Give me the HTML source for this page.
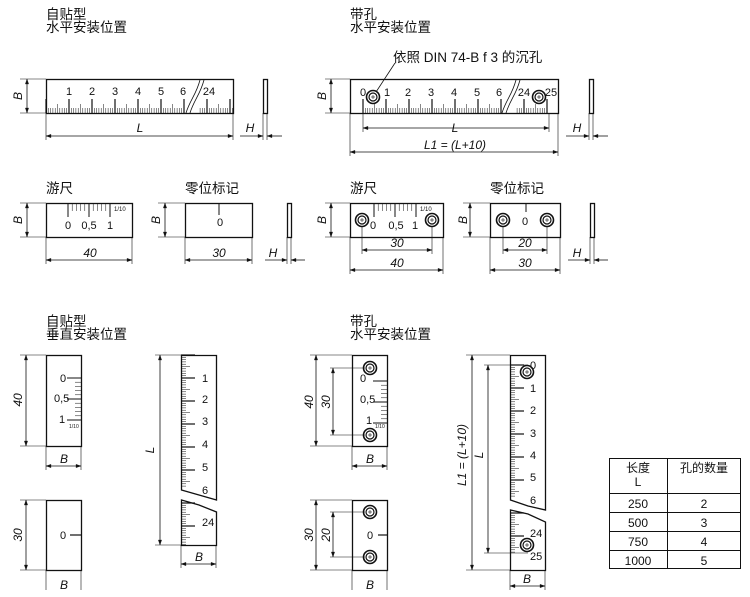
<!DOCTYPE html>
<html><head><meta charset="utf-8"><style>
html,body{margin:0;padding:0;background:#fff;width:750px;height:597px;overflow:hidden}
svg{display:block}
text{font-family:"Liberation Sans","Noto Sans CJK SC",sans-serif;fill:#111}
.cn{font-size:13.5px}
.n{font-size:11px}
.d{font-size:12px;font-style:italic}
</style></head><body>
<svg id="s" width="750" height="597" viewBox="0 0 750 597" xmlns="http://www.w3.org/2000/svg">
<g id="g" stroke="#111" fill="none" stroke-width="1"></g>
<text class="cn" x="46" y="19">自贴型</text>
<text class="cn" x="46" y="32">水平安装位置</text>
<text class="cn" x="350" y="19">带孔</text>
<text class="cn" x="350" y="32">水平安装位置</text>
<text class="cn" x="393" y="62">依照 DIN 74-B f 3 的沉孔</text>
<text class="cn" x="46" y="193">游尺</text>
<text class="cn" x="185" y="193">零位标记</text>
<text class="cn" x="350" y="193">游尺</text>
<text class="cn" x="490" y="193">零位标记</text>
<text class="cn" x="46" y="326">自贴型</text>
<text class="cn" x="46" y="339">垂直安装位置</text>
<text class="cn" x="350" y="326">带孔</text>
<text class="cn" x="350" y="339">水平安装位置</text>
<g class="n" text-anchor="middle">
<text x="69" y="95">1</text><text x="92" y="95">2</text><text x="115" y="95">3</text><text x="138" y="95">4</text><text x="161" y="95">5</text><text x="183" y="95">6</text><text x="209" y="95">24</text>
<text x="363" y="96">0</text><text x="387" y="96">1</text><text x="408" y="96">2</text><text x="431" y="96">3</text><text x="454" y="96">4</text><text x="477" y="96">5</text><text x="499" y="96">6</text><text x="524" y="96">24</text><text x="551" y="96">25</text>
<text x="68" y="229">0</text><text x="89" y="229">0,5</text><text x="110" y="229">1</text>
<text x="220" y="226">0</text>
<text x="373" y="229">0</text><text x="396" y="229">0,5</text><text x="415" y="229">1</text>
<text x="525" y="225">0</text>
</g>
<text x="114" y="211" style="font-size:6px">1/10</text>
<text x="420" y="211" style="font-size:6px">1/10</text>
<g class="d" text-anchor="middle">
<text x="140" y="132">L</text><text x="250" y="132">H</text>
<text x="455" y="132">L</text><text x="455" y="149">L1 = (L+10)</text><text x="577" y="132">H</text>
<text x="90" y="257">40</text><text x="219" y="257">30</text><text x="273" y="257">H</text>
<text x="397" y="247">30</text><text x="397" y="267">40</text><text x="525" y="247">20</text><text x="525" y="267">30</text><text x="577" y="257">H</text>
<text x="64" y="463">B</text><text x="64" y="589">B</text><text x="199" y="561">B</text><text x="370" y="463">B</text><text x="370" y="589">B</text><text x="527" y="583">B</text>
</g>
<g class="d" text-anchor="middle">
<text transform="translate(22,96) rotate(-90)">B</text>
<text transform="translate(326,96) rotate(-90)">B</text>
<text transform="translate(22,220) rotate(-90)">B</text>
<text transform="translate(160,220) rotate(-90)">B</text>
<text transform="translate(326,220) rotate(-90)">B</text>
<text transform="translate(467,220) rotate(-90)">B</text>
<text transform="translate(22,400) rotate(-90)">40</text>
<text transform="translate(22,535) rotate(-90)">30</text>
<text transform="translate(154,450) rotate(-90)">L</text>
<text transform="translate(313,402) rotate(-90)">40</text>
<text transform="translate(330,402) rotate(-90)">30</text>
<text transform="translate(313,535) rotate(-90)">30</text>
<text transform="translate(330,535) rotate(-90)">20</text>
<text transform="translate(466,455) rotate(-90)">L1 = (L+10)</text>
<text transform="translate(483,455) rotate(-90)">L</text>
</g>
<g class="n">
<text x="60" y="382">0</text><text x="54" y="402">0,5</text><text x="59" y="423">1</text>
<text x="60" y="539">0</text>
<text x="202" y="382">1</text><text x="202" y="403">2</text><text x="202" y="425">3</text><text x="202" y="448">4</text><text x="202" y="471">5</text><text x="202" y="494">6</text><text x="202" y="526">24</text>
<text x="360" y="382">0</text><text x="360" y="403">0,5</text><text x="366" y="424">1</text>
<text x="367" y="539">0</text>
<text x="530" y="369">0</text><text x="530" y="392">1</text><text x="530" y="414">2</text><text x="530" y="437">3</text><text x="530" y="459">4</text><text x="530" y="481">5</text><text x="530" y="504">6</text><text x="530" y="537">24</text><text x="530" y="560">25</text>
</g>
<text x="69" y="428" style="font-size:5px">1/10</text>
<text x="375" y="428" style="font-size:5px">1/10</text>
<g stroke="#111" fill="none">
<rect x="609.5" y="458.5" width="131" height="110"/>
<line x1="667.5" y1="458" x2="667.5" y2="568"/>
<line x1="609" y1="493.5" x2="740" y2="493.5"/>
<line x1="609" y1="512.5" x2="740" y2="512.5"/>
<line x1="609" y1="531.5" x2="740" y2="531.5"/>
<line x1="609" y1="550.5" x2="740" y2="550.5"/>
</g>
<g style="font-size:12px" text-anchor="middle">
<text x="638" y="472">长度</text><text x="638" y="486">L</text><text x="704" y="472">孔的数量</text>
<text x="638" y="508">250</text><text x="704" y="508">2</text>
<text x="638" y="527">500</text><text x="704" y="527">3</text>
<text x="638" y="546">750</text><text x="704" y="546">4</text>
<text x="638" y="565">1000</text><text x="704" y="565">5</text>
</g>
</svg>
<script>
var g=document.getElementById('g'),NS='http://www.w3.org/2000/svg';
function el(t,a){var e=document.createElementNS(NS,t);for(var k in a)e.setAttribute(k,a[k]);g.appendChild(e);return e;}
function L(x1,y1,x2,y2,w){el('line',{x1:x1,y1:y1,x2:x2,y2:y2,'stroke-width':w||0.8});}
function R(x,y,w,h){el('rect',{x:x+.5,y:y+.5,width:w,height:h,'stroke-width':1.3});}
function arrow(x,y,dx,dy){var a=5,b=1.7;el('polygon',{points:x+','+y+' '+(x+dx*a-dy*b)+','+(y+dy*a+dx*b)+' '+(x+dx*a+dy*b)+','+(y+dy*a-dx*b),fill:'#111','stroke-width':0.3});}
function HD(x1,x2,y){L(x1,y,x2,y);arrow(x1,y,1,0);arrow(x2,y,-1,0);}
function VD(x,y1,y2){L(x,y1,x,y2);arrow(x,y1,0,1);arrow(x,y2,0,-1);}
function hole(x,y){el('circle',{cx:x,cy:y,r:6.5,'stroke-width':1.6});el('circle',{cx:x,cy:y,r:4,'stroke-width':1.2});L(x-2,y,x+2,y,.6);L(x,y-2,x,y+2,.6);}
function hticks(x0,x1,y,step,skip){var i=0;for(var x=x0;x<=x1+.01;x+=step,i++){if(skip&&x>skip[0]&&x<skip[1])continue;var h=i%10==0?14:(i%5==0?9:5);L(x,y,x,y-h,i%10==0?1.2:.5);}}
function vticks(x,y0,y1,step,skip){var i=0;for(var y=y0;y<=y1+.01;y+=step,i++){if(skip&&y>skip[0]&&y<skip[1])continue;var h=i%10==0?14:(i%5==0?9:5);L(x,y,x+h,y,i%10==0?1.2:.5);}}
R(46,79,187,34);hticks(46,233,113,2.3,[185,200]);
el('path',{d:'M186 113 C190 100,196 95,200 80 M190 113 C194 100,200 95,204 80','stroke-width':.8,fill:'#fff'});
L(20,79,46,79,.6);L(20,113,46,113,.6);VD(27,79,113);
L(46,113,46,140,.6);L(233,113,233,140,.6);HD(46,233,136);
R(263,79,4,34);L(263,113,263,140,.6);L(267,113,267,140,.6);L(240,136,263,136);arrow(263,136,-1,0);L(267,136,282,136);arrow(267,136,1,0);
R(350,79,208,34);hticks(363,549,113,2.3,[502,515]);
el('path',{d:'M502 113 C506 100,512 95,516 80 M506 113 C510 100,516 95,520 80','stroke-width':.8});
hole(373,97);hole(539,97);L(395,63,376,92,.8);
L(325,79,350,79,.6);L(325,113,350,113,.6);VD(331,79,113);
L(363,113,363,132,.6);L(549,113,549,132,.6);HD(363,549,128);
L(350,113,350,156,.6);L(558,113,558,156,.6);HD(350,558,152);
R(589,79,4,34);L(589,113,589,140,.6);L(593,113,593,140,.6);L(566,136,589,136);arrow(589,136,-1,0);L(593,136,608,136);arrow(593,136,1,0);
R(46,203,86,34);for(var i=0;i<=10;i++){var x=68+i*4.2;L(x,203,x,203+(i%5==0?14:8),i%5==0?1:.5);}
L(20,203,46,203,.6);L(20,237,46,237,.6);VD(27,203,237);
L(46,237,46,264,.6);L(132,237,132,264,.6);HD(46,132,260);
R(185,203,67,34);L(219,203,219,215,1);
L(158,203,185,203,.6);L(158,237,185,237,.6);VD(165,203,237);
L(185,237,185,264,.6);L(252,237,252,264,.6);HD(185,252,260);
R(287,203,4,34);L(287,237,287,264,.6);L(291,237,291,264,.6);L(265,260,287,260);arrow(287,260,-1,0);L(291,260,305,260);arrow(291,260,1,0);
R(350,203,93,34);for(var i=0;i<=10;i++){var x=374+i*4.2;L(x,203,x,203+(i%5==0?14:8),i%5==0?1:.5);}
hole(362,220);hole(432,220);
L(325,203,350,203,.6);L(325,237,350,237,.6);VD(331,203,237);
L(362,226,362,254,.6);L(432,226,432,254,.6);HD(362,432,250);
L(350,237,350,274,.6);L(443,237,443,274,.6);HD(350,443,270);
R(490,203,70,34);L(526,203,526,212,1);hole(503,220);hole(547,220);
L(463,203,490,203,.6);L(463,237,490,237,.6);VD(470,203,237);
L(503,226,503,254,.6);L(547,226,547,254,.6);HD(503,547,250);
L(490,237,490,274,.6);L(560,237,560,274,.6);HD(490,560,270);
R(590,203,4,34);L(590,237,590,264,.6);L(594,237,594,264,.6);L(568,260,590,260);arrow(590,260,-1,0);L(594,260,608,260);arrow(594,260,1,0);
R(46,355,35,91);for(var i=0;i<=10;i++){var y=378+i*4.2;L(81,y,81-(i%5==0?14:6),y,i%5==0?1:.5);}
L(20,355,46,355,.6);L(20,446,46,446,.6);VD(26,355,446);
L(46,446,46,470,.6);L(81,446,81,470,.6);HD(46,81,466);
R(46,500,35,70);L(81,535,70,535,1.2);
L(20,500,46,500,.6);L(20,570,46,570,.6);VD(26,500,570);
L(46,570,46,590,.6);L(81,570,81,590,.6);
el('path',{d:'M181.5 355.5 H216.5 V500 L199 495 L181.5 490 Z','stroke-width':1.3});
el('path',{d:'M181.5 500 L199 505 L216.5 512 V545.5 H181.5 Z','stroke-width':1.3});
vticks(181,355,488,2.3);vticks(181,503,545,2.3);
L(155,355,181,355,.6);L(155,545,181,545,.6);VD(160,355,545);
L(181,545,181,568,.6);L(216,545,216,568,.6);HD(181,216,564);
R(352,355,35,91);for(var i=0;i<=10;i++){var y=381+i*4.2;L(387,y,387-(i%5==0?14:6),y,i%5==0?1:.5);}
hole(370,368);hole(370,435);
L(310,355,352,355,.6);L(310,446,352,446,.6);VD(316,355,446);
L(330,368,365,368,.6);L(330,435,365,435,.6);VD(333,368,435);
L(352,446,352,470,.6);L(387,446,387,470,.6);HD(352,387,466);
R(352,500,35,70);L(387,535,378,535,1.2);hole(370,512);hole(370,557);
L(310,500,352,500,.6);L(310,570,352,570,.6);VD(316,500,570);
L(330,512,365,512,.6);L(330,557,365,557,.6);VD(333,512,557);
L(352,570,352,590,.6);L(387,570,387,590,.6);
el('path',{d:'M510.5 355.5 H545.5 V510 L528 506 L510.5 500 Z','stroke-width':1.3});
el('path',{d:'M510.5 510 L528 514 L545.5 522 V570.5 H510.5 Z','stroke-width':1.3});
vticks(510,365,498,2.3);vticks(510,513,553,2.3);
hole(527,372);hole(527,545);
L(466,355,510,355,.6);L(466,570,510,570,.6);VD(472,355,570);
L(484,365,528,365,.6);L(484,553,528,553,.6);VD(488,365,553);
L(510,570,510,590,.6);L(545,570,545,590,.6);HD(510,545,586);
</script>
</body></html>
